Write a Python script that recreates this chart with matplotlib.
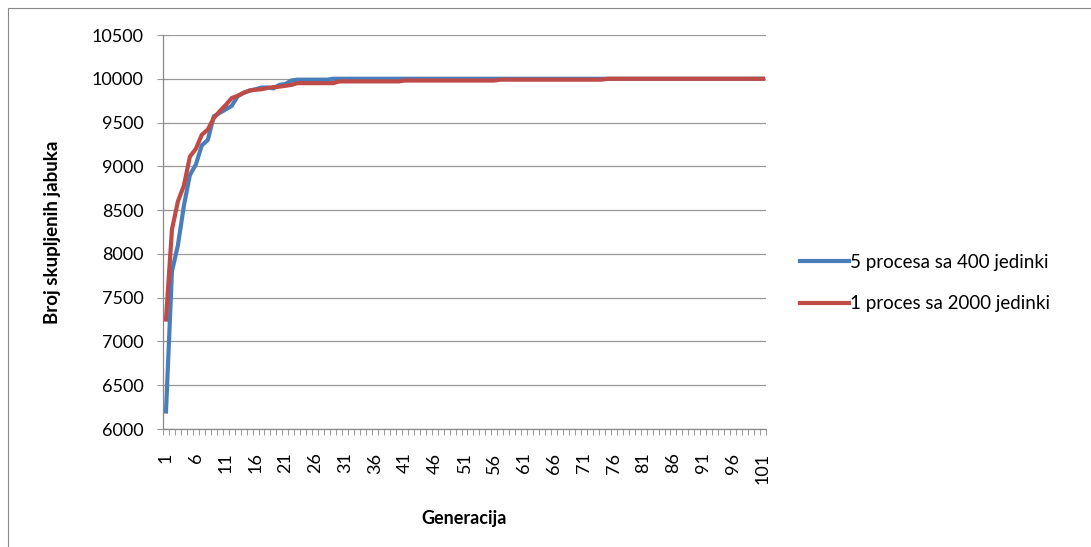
import numpy as np
import matplotlib.pyplot as plt
from matplotlib.patches import Rectangle

plt.rcParams['font.family'] = ['Lato', 'DejaVu Sans']

# Generacije 1..101
generacije = list(range(1, 102))

# 5 procesa sa 400 jedinki
plavo = [6200, 7800, 8100, 8550, 8900, 9020, 9240, 9300, 9570, 9610,
         9650, 9690, 9800, 9840, 9865, 9880, 9900, 9900, 9890, 9930,
         9940, 9980, 9990, 9990, 9990, 9990, 9990, 9990, 10000, 10000,
         10000, 10000, 10000, 10000, 10000, 10000, 10000, 10000, 10000, 10000,
         10000, 10000, 10000, 10000, 10000, 10000, 10000, 10000, 10000, 10000,
         10000, 10000, 10000, 10000, 10000, 10000, 10000, 10000, 10000, 10000,
         10000, 10000, 10000, 10000, 10000, 10000, 10000, 10000, 10000, 10000,
         10000, 10000, 10000, 10000, 10000, 10000, 10000, 10000, 10000, 10000,
         10000, 10000, 10000, 10000, 10000, 10000, 10000, 10000, 10000, 10000,
         10000, 10000, 10000, 10000, 10000, 10000, 10000, 10000, 10000, 10000,
         10000]

# 1 proces sa 2000 jedinki
crveno = [7250, 8280, 8600, 8780, 9110, 9200, 9360, 9420, 9550, 9630,
          9700, 9780, 9805, 9840, 9865, 9875, 9880, 9895, 9905, 9910,
          9920, 9930, 9950, 9950, 9950, 9950, 9950, 9950, 9950, 9970,
          9970, 9970, 9970, 9970, 9970, 9970, 9970, 9970, 9970, 9970,
          9980, 9980, 9980, 9980, 9980, 9980, 9980, 9980, 9980, 9980,
          9980, 9980, 9980, 9980, 9980, 9980, 9990, 9990, 9990, 9990,
          9990, 9990, 9990, 9990, 9990, 9990, 9990, 9990, 9990, 9990,
          9990, 9990, 9990, 9990, 10000, 10000, 10000, 10000, 10000, 10000,
          10000, 10000, 10000, 10000, 10000, 10000, 10000, 10000, 10000, 10000,
          10000, 10000, 10000, 10000, 10000, 10000, 10000, 10000, 10000, 10000,
          10000]

fig = plt.figure(figsize=(10.91, 5.47), dpi=100)
ax = fig.add_axes([163 / 1091, 1 - 429 / 547, 603 / 1091, 394 / 547])

# okvir grafikona
fig.patches.append(Rectangle((8 / 1091, -0.05), 1.2, 1 - 8 / 547 + 0.05,
                             transform=fig.transFigure, fill=False,
                             edgecolor='#888888', linewidth=0.8))

ax.plot(generacije, plavo, color='#4A7EBB', linewidth=3.0,
        label='5 procesa sa 400 jedinki')
ax.plot(generacije, crveno, color='#BE4B48', linewidth=3.0,
        label='1 proces sa 2000 jedinki')

ax.set_xlim(0.5, 101.5)
ax.set_ylim(6000, 10500)
ax.set_yticks(np.arange(6000, 10501, 500))
ax.set_xticks(generacije[::5])
ax.set_xticklabels([str(g) for g in generacije[::5]], rotation=90)
ax.set_xticks(np.arange(0.5, 102, 1), minor=True)
ax.tick_params(axis='x', which='major', length=0, pad=17, labelsize=13)
ax.tick_params(axis='x', which='minor', length=4.5, color='#999999', width=0.7)
ax.tick_params(axis='y', direction='inout', length=8, color='#999999',
               width=0.8, labelsize=13, pad=10)

ax.grid(axis='y', color='#999999', linewidth=0.9)
ax.set_axisbelow(True)
for s in ['top', 'right']:
    ax.spines[s].set_visible(False)
for s in ['left', 'bottom']:
    ax.spines[s].set_color('#888888')
    ax.spines[s].set_linewidth(0.9)

ax.set_xlabel('Generacija', fontsize=13, fontweight='bold')
ax.set_ylabel('Broj skupljenih jabuka', fontsize=13.5, fontweight='bold')
ax.xaxis.set_label_coords(0.5, -0.226)
ax.xaxis.label.set_va('center')
ax.yaxis.set_label_coords(-0.184, 0.5)
ax.yaxis.label.set_va('center')

ax.legend(loc='center left', bbox_to_anchor=(800 / 1091, 1 - 283 / 547),
          bbox_transform=fig.transFigure, frameon=False, borderpad=0,
          borderaxespad=0, fontsize=13.5, handlelength=2.6,
          handletextpad=0.05, labelspacing=1.3)

plt.savefig('out.png', dpi=100)
